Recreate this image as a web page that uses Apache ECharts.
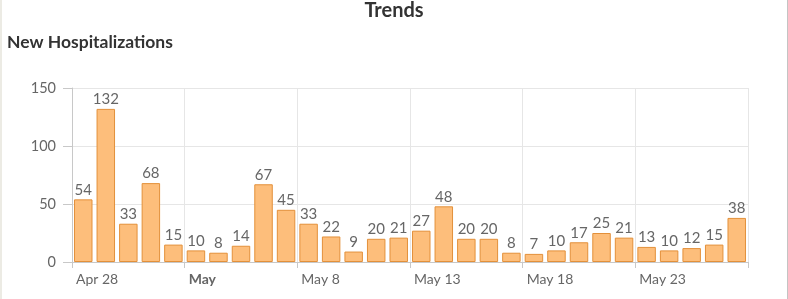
<!DOCTYPE html>
<html>
<head>
<meta charset="utf-8">
<script src="https://cdn.jsdelivr.net/npm/echarts@6/dist/echarts.min.js"></script>
<style>
html,body{margin:0;padding:0;background:#fff;}
#chart{width:788px;height:299px;}
</style>
</head>
<body>
<div id="chart"></div>
<script>
const categories = ["Apr 28","Apr 29","Apr 30","May 1","May 2","May 3","May 4","May 5","May 6","May 7",
  "May 8","May 9","May 10","May 11","May 12","May 13","May 14","May 15","May 16","May 17",
  "May 18","May 19","May 20","May 21","May 22","May 23","May 24","May 25","May 26","May 27"];
const hospitalizations = [54,132,33,68,15,10,8,14,67,45,33,22,9,20,21,27,48,20,20,8,7,10,17,25,21,13,10,12,15,38];
const xTickLabels = ["Apr 28","May","May 8","May 13","May 18","May 23",""];
const yTicks = [0,50,100,150];

const FONT = "Lato, 'Open Sans', sans-serif";
const chart = echarts.init(document.getElementById('chart'), null, {renderer:'canvas'});
chart.setOption({
  animation:false,
  backgroundColor:'#fff',
  textStyle:{fontFamily:FONT},
  title:[
    {text:'Trends', left:'center', top:1, padding:0, textStyle:{fontFamily:FONT, fontSize:20, fontWeight:'bold', color:'#333'}},
    {text:'New Hospitalizations', left:7, top:33, padding:0, textStyle:{fontFamily:FONT, fontSize:17.5, fontWeight:'bold', color:'#333'}}
  ],
  graphic:[
    {type:'line', shape:{x1:1,y1:0,x2:1,y2:299}, style:{stroke:'#ecebe4', lineWidth:2}},
    {type:'line', shape:{x1:787.5,y1:0,x2:787.5,y2:299}, style:{stroke:'#c4c4c4', lineWidth:1}}
  ],
  grid:{left:72, right:40, top:88, bottom:37, containLabel:false},
  xAxis:[
    {type:'category', data:categories, boundaryGap:true,
      axisLine:{show:true, lineStyle:{color:'#c8c8c8'}},
      axisTick:{show:false}, axisLabel:{show:false}, splitLine:{show:false}},
    {type:'value', position:'bottom', min:0, max:30, interval:5,
      axisLine:{show:false},
      axisTick:{show:true, length:6, lineStyle:{color:'#c8c8c8'}},
      splitLine:{show:true, lineStyle:{color:'#e6e6e6'}},
      axisLabel:{show:true, align:'left', margin:10, padding:[0,0,0,4], color:'#666', fontSize:14,
        formatter:function(v){const s = xTickLabels[Math.round(v/5)] || ''; return s==='May' ? '{b|May}' : s;},
        rich:{b:{fontWeight:'bold', color:'#666', fontSize:14, fontFamily:FONT}}}
    }
  ],
  yAxis:{type:'value', min:yTicks[0], max:yTicks[yTicks.length-1], interval:50,
    axisLine:{show:true, lineStyle:{color:'#c8c8c8'}},
    axisTick:{show:true, length:9, lineStyle:{color:'#c8c8c8'}},
    axisLabel:{color:'#666', fontSize:14.5, margin:16},
    splitLine:{show:true, lineStyle:{color:'#e6e6e6'}}
  },
  series:[{
    type:'bar', xAxisIndex:0, data:hospitalizations, barCategoryGap:'18%',
    itemStyle:{color:'#fdbe7b', borderColor:'#e3903a', borderWidth:1},
    label:{show:true, position:'top', distance:2, color:'#666', fontSize:15, fontFamily:FONT}
  }]
});
</script>
</body>
</html>
